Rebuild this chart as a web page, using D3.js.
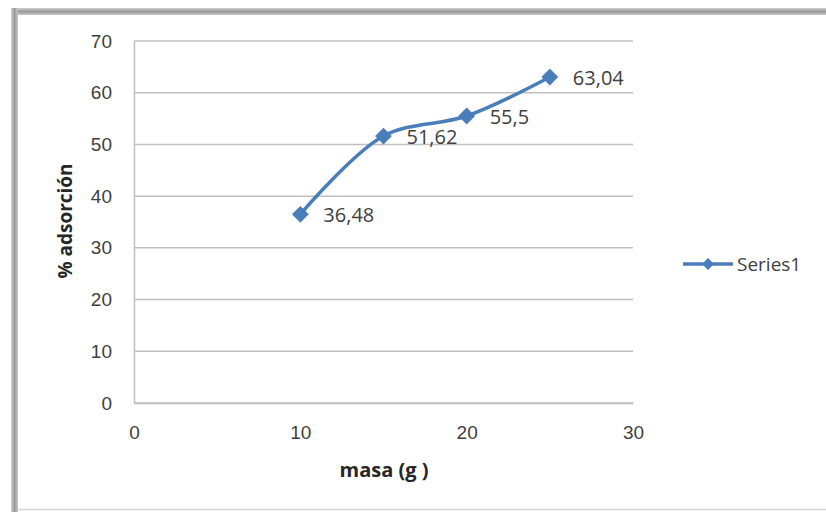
<!DOCTYPE html>
<html>
<head>
<meta charset="utf-8">
<script src="https://cdn.jsdelivr.net/npm/d3@7"></script>
<style>
  html, body { margin: 0; padding: 0; background: #fff; }
  svg { display: block; font-family: "Open Sans", "Liberation Sans", sans-serif; }
</style>
</head>
<body>
<svg id="chart" width="826" height="512"></svg>
<script>
// Adsorption percentage against adsorbent mass
const masa = [10, 15, 20, 25];
const adsorcion = [36.48, 51.62, 55.5, 63.04];
const xTicks = [0, 10, 20, 30];
const yTicks = [0, 10, 20, 30, 40, 50, 60, 70];
const seriesName = "Series1";

const svg = d3.select("#chart");
const W = 826, H = 512;

// outer chart frame: heavy top/left edges, thin bottom edge
const edge = svg.append("defs");
const gTop = edge.append("linearGradient").attr("id", "gTop").attr("x1", 0).attr("y1", 0).attr("x2", 0).attr("y2", 1);
gTop.append("stop").attr("offset", "0%").attr("stop-color", "#d0d0d0");
gTop.append("stop").attr("offset", "50%").attr("stop-color", "#9a9a9a");
gTop.append("stop").attr("offset", "100%").attr("stop-color", "#c8c8c8");
const gLeft = edge.append("linearGradient").attr("id", "gLeft").attr("x1", 0).attr("y1", 0).attr("x2", 1).attr("y2", 0);
gLeft.append("stop").attr("offset", "0%").attr("stop-color", "#d0d0d0");
gLeft.append("stop").attr("offset", "50%").attr("stop-color", "#9a9a9a");
gLeft.append("stop").attr("offset", "100%").attr("stop-color", "#c8c8c8");

svg.append("rect").attr("x", 11).attr("y", 8).attr("width", W - 11).attr("height", 7).attr("fill", "url(#gTop)");
svg.append("rect").attr("x", 11).attr("y", 8).attr("width", 7).attr("height", H - 8).attr("fill", "url(#gLeft)");
svg.append("line").attr("x1", 18).attr("x2", W).attr("y1", 509.5).attr("y2", 509.5)
  .attr("stroke", "#d4d4d4").attr("stroke-width", 1.5);

const plot = { left: 134, right: 633, top: 41, bottom: 403 };

const x = d3.scaleLinear().domain([0, 30]).range([plot.left, plot.right]);
const y = d3.scaleLinear().domain([0, 70]).range([plot.bottom, plot.top]);

// horizontal gridlines
svg.append("g")
  .selectAll("line").data(yTicks).join("line")
  .attr("x1", plot.left).attr("x2", plot.right)
  .attr("y1", d => y(d)).attr("y2", d => y(d))
  .attr("stroke", "#bfbfbf").attr("stroke-width", 1.5);

// y axis
const yAxis = svg.append("g").attr("transform", `translate(${plot.left},0)`)
  .call(d3.axisLeft(y).tickValues(yTicks).tickSize(0).tickPadding(22));
yAxis.select(".domain").attr("stroke", "#bfbfbf").attr("stroke-width", 1.5);
yAxis.selectAll("text").attr("font-size", 19).attr("fill", "#404040");

// x axis
const xAxis = svg.append("g").attr("transform", `translate(0,${plot.bottom})`)
  .call(d3.axisBottom(x).tickValues(xTicks).tickSize(0).tickPadding(23));
xAxis.select(".domain").attr("stroke", "#bfbfbf").attr("stroke-width", 1.5);
xAxis.selectAll("text").attr("font-size", 19).attr("fill", "#404040");

// axis titles
svg.append("text").attr("x", 384).attr("y", 477).attr("text-anchor", "middle")
  .attr("font-size", 20).attr("font-weight", "bold").attr("fill", "#262626")
  .text("masa (g )");
svg.append("text").attr("transform", "translate(72,221) rotate(-90)")
  .attr("text-anchor", "middle").attr("font-size", 19).attr("font-weight", "bold")
  .attr("fill", "#262626").text("% adsorción");

const data = masa.map((m, i) => ({ m, v: adsorcion[i] }));
const blue = "#4a7ebb";

// smoothed series line
svg.append("path").datum(data)
  .attr("d", d3.line().x(d => x(d.m)).y(d => y(d.v)).curve(d3.curveCatmullRom.alpha(0.5)))
  .attr("fill", "none").attr("stroke", blue).attr("stroke-width", 3.5)
  .attr("stroke-linejoin", "round");

// diamond markers
const diamond = d3.symbol().type(d3.symbolDiamond2).size(180);
svg.append("g").selectAll("path").data(data).join("path")
  .attr("transform", d => `translate(${x(d.m)},${y(d.v)})`)
  .attr("d", diamond).attr("fill", blue);

// data labels
const fmt = v => String(v).replace(".", ",");
svg.append("g").selectAll("text").data(data).join("text")
  .attr("x", d => x(d.m) + 23).attr("y", d => y(d.v) + 8)
  .attr("font-size", 20).attr("fill", "#404040")
  .text(d => fmt(d.v));

// legend
const lg = svg.append("g").attr("transform", "translate(683,264)");
lg.append("line").attr("x1", 0).attr("x2", 50).attr("stroke", blue).attr("stroke-width", 3.5);
lg.append("path").attr("transform", "translate(25,0)")
  .attr("d", d3.symbol().type(d3.symbolDiamond2).size(90)).attr("fill", blue);
lg.append("text").attr("x", 54).attr("y", 7).attr("font-size", 19).attr("fill", "#404040")
  .text(seriesName);
</script>
</body>
</html>
